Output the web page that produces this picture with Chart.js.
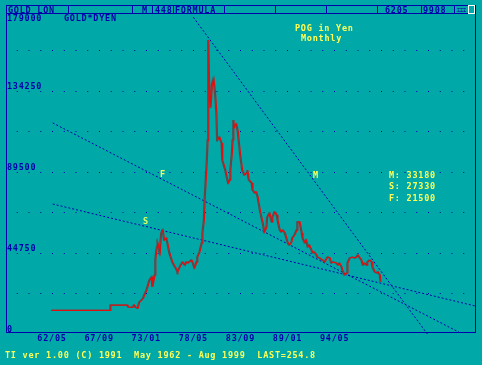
<!DOCTYPE html>
<html><head><meta charset="utf-8">
<script src="https://cdn.jsdelivr.net/npm/chart.js@4.4.0/dist/chart.umd.min.js"></script>
<style>html,body{margin:0;padding:0;background:#00a8a8;overflow:hidden}canvas{display:block}</style>
</head><body>
<canvas id="c" width="482" height="365"></canvas>
<script>
// ---- data (gold price in yen, monthly) ----
const dates = ['1962-05','1965-09','1968-12','1969-01','1970-12','1971-01','1971-07','1971-09','1971-11','1972-02','1972-04','1972-09','1972-11','1973-02','1973-06','1973-09','1973-10','1974-01','1974-02','1974-04','1974-05','1974-08','1974-10','1974-12','1975-02','1975-05','1975-09','1976-01','1976-07','1976-08','1976-11','1977-02','1977-03','1977-06','1977-08','1977-10','1978-03','1978-05','1978-07','1978-10','1978-11','1979-02','1979-05','1979-06','1979-08','1979-09','1979-12','1980-01','1980-02','1980-03','1980-05','1980-07','1980-09','1980-11','1981-01','1981-02','1981-05','1981-08','1981-09','1982-01','1982-03','1982-05','1982-07','1982-08','1982-10','1982-11','1982-12','1983-01','1983-04','1983-06','1983-09','1983-12','1984-03','1984-06','1984-07','1984-09','1985-01','1985-02','1985-05','1985-07','1985-09','1985-12','1986-02','1986-04','1986-06','1986-09','1986-10','1987-01','1987-04','1987-05','1987-08','1987-11','1987-12','1988-03','1988-05','1988-07','1988-10','1988-12','1989-02','1989-04','1989-07','1989-08','1989-11','1990-02','1990-03','1990-06','1990-09','1990-10','1991-01','1991-03','1991-05','1991-07','1991-10','1991-12','1992-02','1992-05','1992-06','1992-09','1993-01','1993-04','1993-07','1993-08','1993-11','1994-01','1994-03','1994-08','1994-10','1994-12','1995-03','1995-04','1995-07','1995-10','1995-11','1996-02','1996-06','1996-09','1996-11','1997-01','1997-03','1997-06','1997-08','1997-10','1998-01','1998-02','1998-05','1998-08','1998-09','1998-12','1999-03','1999-04','1999-07','1999-08'];
const goldYen = [13000,13000,13000,16000,16000,14900,14700,16000,14800,14300,17500,19500,21500,24300,29800,31500,26000,32600,40900,48000,50300,44800,55800,57500,51900,53000,44800,39800,35400,34300,37000,39200,39800,38100,39800,39200,40900,39200,36500,39800,42500,45300,50300,55800,63000,74000,96000,107000,162400,140000,125000,138000,141000,134000,122000,107000,108800,105500,96100,90600,86700,83400,85100,90600,100000,107200,118200,114000,116000,112000,100000,90600,87800,89000,90600,85100,83400,79600,77900,78500,75700,68500,64600,61300,56400,59100,64600,66800,61900,64600,67400,65700,63000,57500,56400,57500,55800,53000,50300,49200,50800,53000,54700,57500,61900,61900,55800,53000,50300,51900,48100,49200,46400,44800,45300,43600,42500,42000,40900,39800,42000,42500,42000,39200,39800,39200,38100,39200,37000,35400,32600,33700,39200,42000,42500,42000,42500,43600,42500,40900,38100,39200,38100,39800,40900,39800,37000,34300,33700,34300,32600,28700];

// trend lines (M, S, F) : end points
const trendNames = ['M','S','F'];
const trendFromDate = ['1978-05','1962-06','1962-06'];
const trendFromValue = [175000, 71800, 116600];
const trendToDate = ['2004-11','2010-04','2008-06'];
const trendToValue = [0, 15470, 1000];
const trendReadout = ['33180','27330','21500'];

const xTickLabels = ['62/05','67/09','73/01','78/05','83/09','89/01','94/05'];
const yTickLabels = ['0','44750','89500','134250','179000'];
const yGridStep = 22375;

// ---- helpers ----
const toIdx = s => { const [y, m] = s.split('-').map(Number); return (y - 1962) * 12 + (m - 5); };
const labelIdx = l => { const [y, m] = l.split('/').map(Number); return (y - 62) * 12 + (m - 5); };
const NAVY = '#0000aa', YEL = '#ffff55', BG = '#00a8a8';
const FF = '"DejaVu Sans Mono", monospace';
const FONT = {family: FF, size: 8.5, weight: 'bold', lineHeight: 1};

const trendSets = trendNames.map((n, i) => ({
  label: n,
  data: [{x: toIdx(trendFromDate[i]), y: trendFromValue[i]}, {x: toIdx(trendToDate[i]), y: trendToValue[i]}],
  borderColor: NAVY, borderWidth: 1, borderDash: [2, 2], pointRadius: 0, order: 1
}));
const goldSet = {
  label: 'GOLD*DYEN',
  data: dates.map((d, i) => ({x: toIdx(d), y: goldYen[i]})),
  borderColor: '#e01010', borderWidth: 1.2, pointRadius: 0, tension: 0, order: 0
};

const styleText = {
  id: 'styleText',
  beforeDraw(chart) { chart.ctx.letterSpacing = '0.75px'; }
};
const shadow = {
  id: 'shadow',
  beforeDatasetDraw(chart, args) {
    if (args.meta.label === 'GOLD*DYEN') {
      const c = chart.ctx; c.save();
      c.shadowColor = '#505050'; c.shadowOffsetX = -1; c.shadowOffsetY = 0; c.shadowBlur = 0;
    }
  },
  afterDatasetDraw(chart, args) {
    if (args.meta.label === 'GOLD*DYEN') chart.ctx.restore();
  }
};
const overlay = {
  id: 'overlay',
  afterDraw(chart) {
    const c = chart.ctx;
    c.save();
    c.letterSpacing = '0.75px';
    c.font = 'bold 8.5px ' + FF;
    c.textBaseline = 'alphabetic';
    c.textAlign = 'left';
    // header bar
    c.fillStyle = BG; c.fillRect(6, 4, 470, 10);
    c.strokeStyle = NAVY; c.lineWidth = 1;
    c.strokeRect(6.5, 5.5, 469, 327);
    c.beginPath(); c.moveTo(6, 13.5); c.lineTo(476, 13.5); c.stroke();
    [68, 132, 152, 173, 224, 275, 326, 377, 421, 454].forEach(x => {
      c.beginPath(); c.moveTo(x + 0.5, 5); c.lineTo(x + 0.5, 14); c.stroke();
    });
    c.strokeStyle = '#ffffff'; c.strokeRect(468.5, 5.5, 6, 8);
    c.fillStyle = NAVY;
    c.fillText('GOLD LON', 8, 12.5);
    c.fillText('M', 142, 12.5);
    c.fillText('448', 155, 12.5);
    c.fillText('FORMULA', 175, 12.5);
    c.fillText('6205', 385, 12.5);
    c.fillText('9908', 423, 12.5);
    c.save(); c.font = 'bold 5px ' + FF; c.letterSpacing = '0px'; c.fillText('ΞΞΞ', 457, 11.5); c.restore();
    c.fillText(yTickLabels[yTickLabels.length - 1], 7, 20.5);
    c.fillText(goldSet.label, 64, 20.5);
    // titles
    c.fillStyle = YEL;
    c.fillText('POG in Yen', 295, 30.5);
    c.fillText('Monthly', 301, 41);
    trendNames.forEach((n, i) => c.fillText(n + ': ' + trendReadout[i], 389, 177.5 + i * 11.5));
    c.fillText('F', 160, 177);
    c.fillText('M', 313, 177.5);
    c.fillStyle = '#d8ff66';
    c.fillText('S', 143, 224);
    c.fillStyle = YEL;
    c.fillText('TI ver 1.00 (C) 1991  May 1962 - Aug 1999  LAST=254.8', 5, 357.5);
    c.restore();
  }
};

new Chart(document.getElementById('c'), {
  type: 'line',
  data: {datasets: [...trendSets, goldSet]},
  options: {
    responsive: false, animation: false, devicePixelRatio: 1,
    layout: {padding: {left: 6, right: 7, top: 10, bottom: 0}},
    plugins: {legend: {display: false}, tooltip: {enabled: false}},
    scales: {
      x: {
        type: 'linear', min: -62.5, max: 574.7,
        grid: {display: false, drawTicks: false}, border: {display: false},
        afterBuildTicks: s => { s.ticks = xTickLabels.map(l => ({value: labelIdx(l)})); },
        ticks: {
          autoSkip: false, maxRotation: 0, color: NAVY, font: FONT, padding: 1,
          callback: v => xTickLabels.find(l => labelIdx(l) === v) || ''
        },
        afterFit: s => { s.height = 31; }
      },
      y: {
        min: 0, max: 179000,
        afterBuildTicks: s => { const t = []; for (let v = 0; v <= 179000; v += yGridStep) t.push({value: v}); s.ticks = t; },
        grid: {color: ctx => (ctx.tick && ctx.tick.value === 0) ? 'rgba(0,0,0,0)' : NAVY, drawTicks: false, lineWidth: 1},
        border: {display: false, dash: [1, 10.75], dashOffset: 1},
        ticks: {
          mirror: true, padding: 1, labelOffset: -4.5, color: NAVY, font: FONT,
          callback: v => (v < 179000 && yTickLabels.includes(String(v))) ? String(v) : ''
        },
        afterFit: s => { s.width = 0; }
      }
    }
  },
  plugins: [styleText, shadow, overlay]
});
</script>
</body></html>
